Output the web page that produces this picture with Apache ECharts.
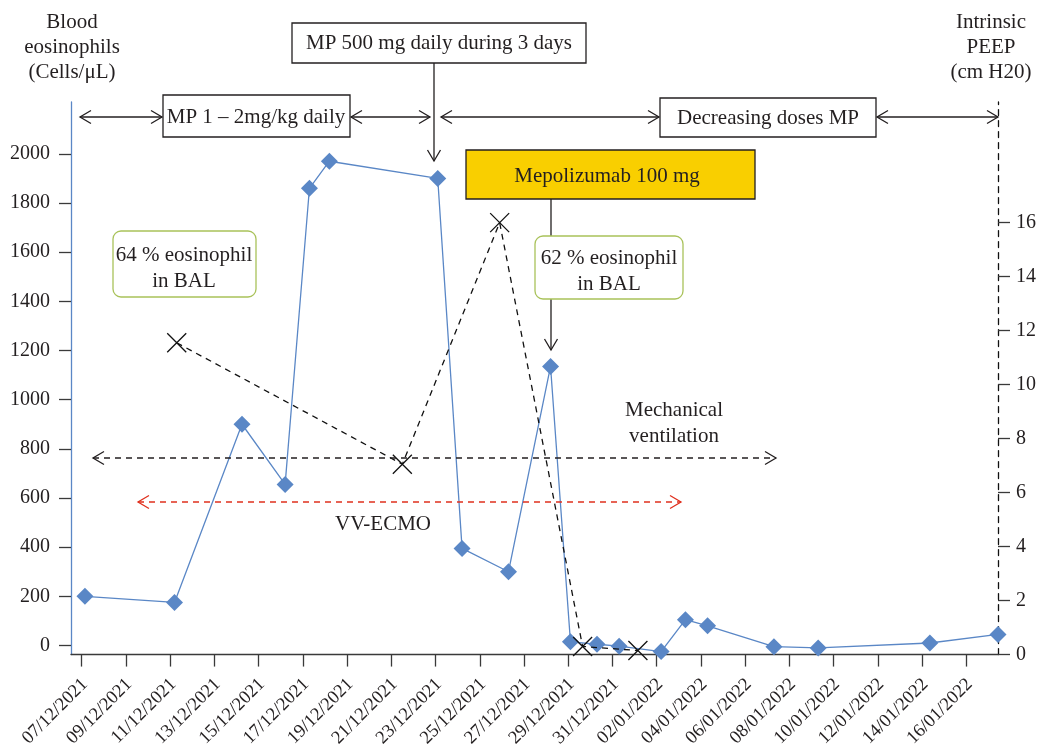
<!DOCTYPE html>
<html><head><meta charset="utf-8">
<script src="https://cdn.jsdelivr.net/npm/echarts@6/dist/echarts.min.js"></script>
<style>html,body{margin:0;padding:0;background:#fff}#c{width:1039px;height:750px}</style>
</head><body><div id="c"></div>
<script>
// ---- data ----
const dateTicks = ['07/12/2021','09/12/2021','11/12/2021','13/12/2021','15/12/2021','17/12/2021','19/12/2021','21/12/2021','23/12/2021','25/12/2021','27/12/2021','29/12/2021','31/12/2021','02/01/2022','04/01/2022','06/01/2022','08/01/2022','10/01/2022','12/01/2022','14/01/2022','16/01/2022'];
const tickDays = dateTicks.map((d, i) => i * 2); // days since 07/12/2021
const eosTicks = [0, 200, 400, 600, 800, 1000, 1200, 1400, 1600, 1800, 2000];
const peepTicks = [0, 2, 4, 6, 8, 10, 12, 14, 16];

// Blood eosinophils (cells/µL), x = days since 07/12/2021
const eosDays   = [0.15, 4.2, 7.25, 9.2, 10.3, 11.2, 16.1, 17.2, 19.3, 21.2, 22.1, 23.3, 24.3, 26.2, 27.3, 28.3, 31.3, 33.3, 38.35, 41.43];
const eosValues = [200, 175, 900, 655, 1860, 1970, 1900, 395, 300, 1135, 15, 5, -3, -25, 105, 80, -5, -10, 10, 45];

// Intrinsic PEEP (cm H2O)
const peepDays   = [4.3, 14.5, 18.9, 22.65, 25.15];
const peepValues = [11.55, 7.05, 16, 0.3, 0.15];

// ---- styling ----
const FONT = '"Liberation Serif", "DejaVu Serif", serif';
const INK = '#231f20';
const BLUE = '#5A87C6';
const FS = 21;
const LABEL_SHIFT = 0.15; // rotated date labels sit slightly right of their tick

const chart = echarts.init(document.getElementById('c'));

function chev(x, y, dir, color) {
  const L = 11, H = 6.5;
  let pts;
  if (dir === 'left') pts = [[x + L, y - H], [x, y], [x + L, y + H]];
  else if (dir === 'right') pts = [[x - L, y - H], [x, y], [x - L, y + H]];
  else pts = [[x - H, y - L], [x, y], [x + H, y - L]];
  return { type: 'polyline', z: 100, shape: { points: pts }, style: { stroke: color, fill: null, lineWidth: 1.3 } };
}
function hArrow(x1, x2, y, color, dash) {
  return [
    { type: 'line', z: 100, shape: { x1: x1, y1: y, x2: x2, y2: y }, style: { stroke: color, lineWidth: 1.3, lineDash: dash ? [6, 5] : null } },
    chev(x1, y, 'left', color), chev(x2, y, 'right', color)
  ];
}
function vArrow(x, y1, y2, color) {
  return [
    { type: 'line', z: 100, shape: { x1: x, y1: y1, x2: x, y2: y2 }, style: { stroke: color, lineWidth: 1.3 } },
    chev(x, y2, 'down', color)
  ];
}
function txt(s, x, y, size) {
  return { type: 'text', z: 110, x: x, y: y, style: { text: s, font: (size || FS) + 'px ' + FONT, fill: INK, textAlign: 'center', textVerticalAlign: 'middle' } };
}
function box(x, y, w, h, fill, stroke, r) {
  return { type: 'rect', z: 105, shape: { x: x, y: y, width: w, height: h, r: r || 0 }, style: { fill: fill, stroke: stroke, lineWidth: 1.3 } };
}

const graphics = [].concat(
  // axis titles
  txt('Blood', 72, 22), txt('eosinophils', 72, 47), txt('(Cells/μL)', 72, 72),
  txt('Intrinsic', 991, 22), txt('PEEP', 991, 47), txt('(cm H20)', 991, 72),
  // MP 500 box + arrow
  vArrow(434, 63, 161, INK),
  [box(292, 23, 294, 40, '#fff', INK), txt('MP 500 mg daily during 3 days', 439, 43)],
  // treatment row
  hArrow(80, 162, 117, INK, false),
  [box(163, 95, 187, 42, '#fff', INK), txt('MP 1 – 2mg/kg daily', 256, 117)],
  hArrow(351, 430, 117, INK, false),
  hArrow(441, 659, 117, INK, false),
  [box(660, 98, 216, 39, '#fff', INK), txt('Decreasing doses MP', 768, 118)],
  hArrow(877, 998, 117, INK, false),
  // Mepolizumab
  vArrow(551, 199, 350, INK),
  [box(466, 150, 289, 49, '#F9CF00', INK), txt('Mepolizumab 100 mg', 607, 176)],
  // BAL boxes
  [box(113, 231, 143, 66, '#fff', '#A9C25A', 8), txt('64 % eosinophil', 184, 255), txt('in BAL', 184, 281)],
  [box(535, 236, 148, 63, '#fff', '#A9C25A', 8), txt('62 % eosinophil', 609, 258), txt('in BAL', 609, 284)],
  // ventilation / ECMO
  txt('Mechanical', 674, 410), txt('ventilation', 674, 436),
  hArrow(93, 776, 458, INK, true),
  hArrow(138, 681, 502, '#E0301E', true),
  txt('VV-ECMO', 383, 524)
);

chart.setOption({
  animation: false,
  backgroundColor: '#fff',
  grid: { left: 71, right: 40.7, top: 102, bottom: 95, containLabel: false },
  xAxis: {
    type: 'value', min: -0.48, max: 41.43,
    splitLine: { show: false },
    axisLine: { show: true, onZero: false, lineStyle: { color: '#3a3a3a', width: 1.3 } },
    axisTick: { show: true, length: 12, customValues: tickDays, lineStyle: { color: '#3a3a3a', width: 1.3 } },
    axisLabel: {
      customValues: tickDays.map(d => d + LABEL_SHIFT), rotate: 45, margin: 27,
      formatter: v => dateTicks[Math.round((v - LABEL_SHIFT) / 2)],
      fontFamily: FONT, fontSize: 18.5, color: INK
    }
  },
  yAxis: [{
    type: 'value', min: -37, max: 2211,
    splitLine: { show: false },
    axisLine: { show: true, onZero: false, lineStyle: { color: BLUE, width: 1.3 } },
    axisTick: { show: true, length: 12, customValues: eosTicks, lineStyle: { color: '#3a3a3a', width: 1.3 } },
    axisLabel: { customValues: eosTicks, margin: 21, formatter: v => String(v), fontFamily: FONT, fontSize: 20, color: INK }
  }, {
    type: 'value', min: 0, max: 20.47, position: 'right',
    splitLine: { show: false },
    axisLine: { show: true, onZero: false, lineStyle: { color: '#111', width: 1.3, type: [6, 5] } },
    axisTick: { show: true, length: 12, customValues: peepTicks, lineStyle: { color: '#3a3a3a', width: 1.3 } },
    axisLabel: { customValues: peepTicks, margin: 18, formatter: v => String(v), fontFamily: FONT, fontSize: 20, color: INK }
  }],
  series: [{
    name: 'Blood eosinophils', type: 'line', yAxisIndex: 0,
    data: eosDays.map((d, i) => [d, eosValues[i]]),
    symbol: 'diamond', symbolSize: 17,
    lineStyle: { color: BLUE, width: 1.3 }, itemStyle: { color: BLUE },
    z: 3
  }, {
    name: 'Intrinsic PEEP', type: 'line', yAxisIndex: 1,
    data: peepDays.map((d, i) => [d, peepValues[i]]),
    symbol: 'path://M0,0L10,10M10,0L0,10', symbolSize: 19,
    lineStyle: { color: '#111', width: 1.3, type: [6, 5] },
    itemStyle: { color: '#111', borderColor: '#111', borderWidth: 1.3 },
    z: 4
  }],
  graphic: graphics
});
</script>
</body></html>
